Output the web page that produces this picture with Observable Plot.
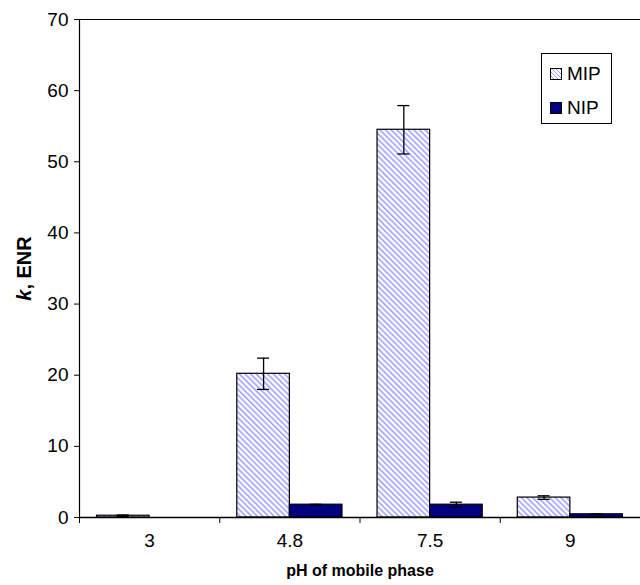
<!DOCTYPE html>
<html>
<head>
<meta charset="utf-8">
<script src="https://cdn.jsdelivr.net/npm/d3@7"></script>
<script src="https://cdn.jsdelivr.net/npm/@observablehq/plot@0.6"></script>
<style>
  html, body { margin: 0; padding: 0; background: #fff; }
  #wrap { position: relative; width: 640px; height: 585px; font-family: "Liberation Sans", Arial, sans-serif; }
  #legend { position: absolute; left: 541px; top: 53px; width: 71px; height: 71px; border: 1px solid #000; box-sizing: border-box; background: #fff; font-size: 19px; line-height: 22px; }
  #legend .row { position: absolute; left: 8px; display: flex; align-items: center; }
  #legend .sw { width: 12px; height: 12px; border: 1px solid #000; margin-right: 5px; box-sizing: border-box; }
</style>
</head>
<body>
<div id="wrap"></div>
<script>
const categories = ["3", "4.8", "7.5", "9"];
const series = ["MIP", "NIP"];
const mipValues = [0.25, 20.2, 54.5, 2.8];
const mipErrors = [0.1, 2.2, 3.4, 0.25];
const nipValues = [0, 1.8, 1.8, 0.45];
const nipErrors = [0, 0.05, 0.35, 0.05];
const yTicks = [0, 10, 20, 30, 40, 50, 60, 70];

const groupPad = 0.125;
const half = 0.5;

const rows = [];
categories.forEach((c, i) => {
  rows.push({cat: c, i, series: "MIP", value: mipValues[i], err: mipErrors[i], x1: i + groupPad, x2: i + half});
  rows.push({cat: c, i, series: "NIP", value: nipValues[i], err: nipErrors[i], x1: i + half, x2: i + 1 - groupPad});
});
rows.forEach(d => { d.xc = (d.x1 + d.x2) / 2; d.lo = d.value - d.err; d.hi = d.value + d.err; });
const errRows = rows.filter(d => d.err > 0);
const capHalf = 0.043;

const boundaries = d3.range(categories.length + 1);
const centers = categories.map((c, i) => i + 0.5);

const plot = Plot.plot({
  width: 640,
  height: 585,
  marginLeft: 79,
  marginRight: 0,
  marginTop: 19,
  marginBottom: 68,
  style: {fontFamily: "Liberation Sans, Arial, sans-serif", fontSize: "19px", background: "#fff", color: "#000"},
  x: {domain: [0, categories.length], axis: null},
  y: {domain: [0, 70], axis: null},
  marks: [
    Plot.axisY({ticks: yTicks, tickSize: 5, tickPadding: 6, label: null, fontSize: 19, strokeWidth: 1}),
    Plot.axisX({ticks: boundaries, tickSize: 6, tickFormat: () => "", label: null}),
    Plot.axisX({ticks: centers, tickSize: 0, tickPadding: 16, tickFormat: (d) => categories[Math.round(d - 0.5)], label: null, fontSize: 19}),
    Plot.rect(rows.filter(d => d.series === "MIP" && d.value > 0), {x1: "x1", x2: "x2", y1: 0, y2: "value", fill: "url(#hatch)", stroke: "#000", strokeWidth: 1.2}),
    Plot.rect(rows.filter(d => d.series === "NIP" && d.value > 0), {x1: "x1", x2: "x2", y1: 0, y2: "value", fill: "#000080", stroke: "#000", strokeWidth: 1.2}),
    Plot.ruleX(errRows, {x: "xc", y1: "lo", y2: "hi", stroke: "#000", strokeWidth: 1.3}),
    Plot.ruleY(errRows, {y: "hi", x1: d => d.xc - capHalf, x2: d => d.xc + capHalf, stroke: "#000", strokeWidth: 1.3}),
    Plot.ruleY(errRows, {y: "lo", x1: d => d.xc - capHalf, x2: d => d.xc + capHalf, stroke: "#000", strokeWidth: 1.3}),
    Plot.ruleX([0], {stroke: "#000", strokeWidth: 1.2}),
    Plot.ruleY([0], {stroke: "#000", strokeWidth: 1.5}),
    Plot.ruleY([70], {stroke: "#000", strokeWidth: 1}),
    Plot.text(["pH of mobile phase"], {frameAnchor: "bottom", dy: 58, fontWeight: "bold", fontSize: 16, text: d => d}),
    Plot.text(["k, ENR"], {frameAnchor: "left", textAnchor: "middle", dx: -55, rotate: -90, fontWeight: "bold", fontSize: 20, text: d => d})
  ]
});

const svg = d3.select(plot);
const defs = svg.insert("defs", ":first-child");
const pat = defs.append("pattern").attr("id", "hatch").attr("patternUnits", "userSpaceOnUse")
  .attr("width", 4).attr("height", 4).attr("patternTransform", "rotate(-45)");
pat.append("rect").attr("width", 4).attr("height", 4).attr("fill", "#fff");
pat.append("rect").attr("x", 0).attr("width", 1.5).attr("height", 4).attr("fill", "#9a9aff");

svg.selectAll("text").filter(function() { return this.textContent === "k, ENR"; })
  .each(function() {
    const t = d3.select(this);
    t.text(null);
    t.append("tspan").attr("font-style", "italic").text("k");
    t.append("tspan").text(", ENR");
  });

const wrap = document.getElementById("wrap");
wrap.appendChild(plot);
const legend = document.createElement("div");
legend.id = "legend";
series.forEach((s, j) => {
  const row = document.createElement("div");
  row.className = "row";
  row.style.top = (j === 0 ? 9 : 43) + "px";
  const sw = document.createElement("div");
  sw.className = "sw";
  if (j === 0) {
    sw.style.background = "repeating-linear-gradient(45deg, #fff 0 1.6px, #9a9aff 1.6px 2.8px)";
  } else {
    sw.style.background = "#000080";
  }
  const lab = document.createElement("span");
  lab.textContent = s;
  row.appendChild(sw);
  row.appendChild(lab);
  legend.appendChild(row);
});
wrap.appendChild(legend);
</script>
</body>
</html>
